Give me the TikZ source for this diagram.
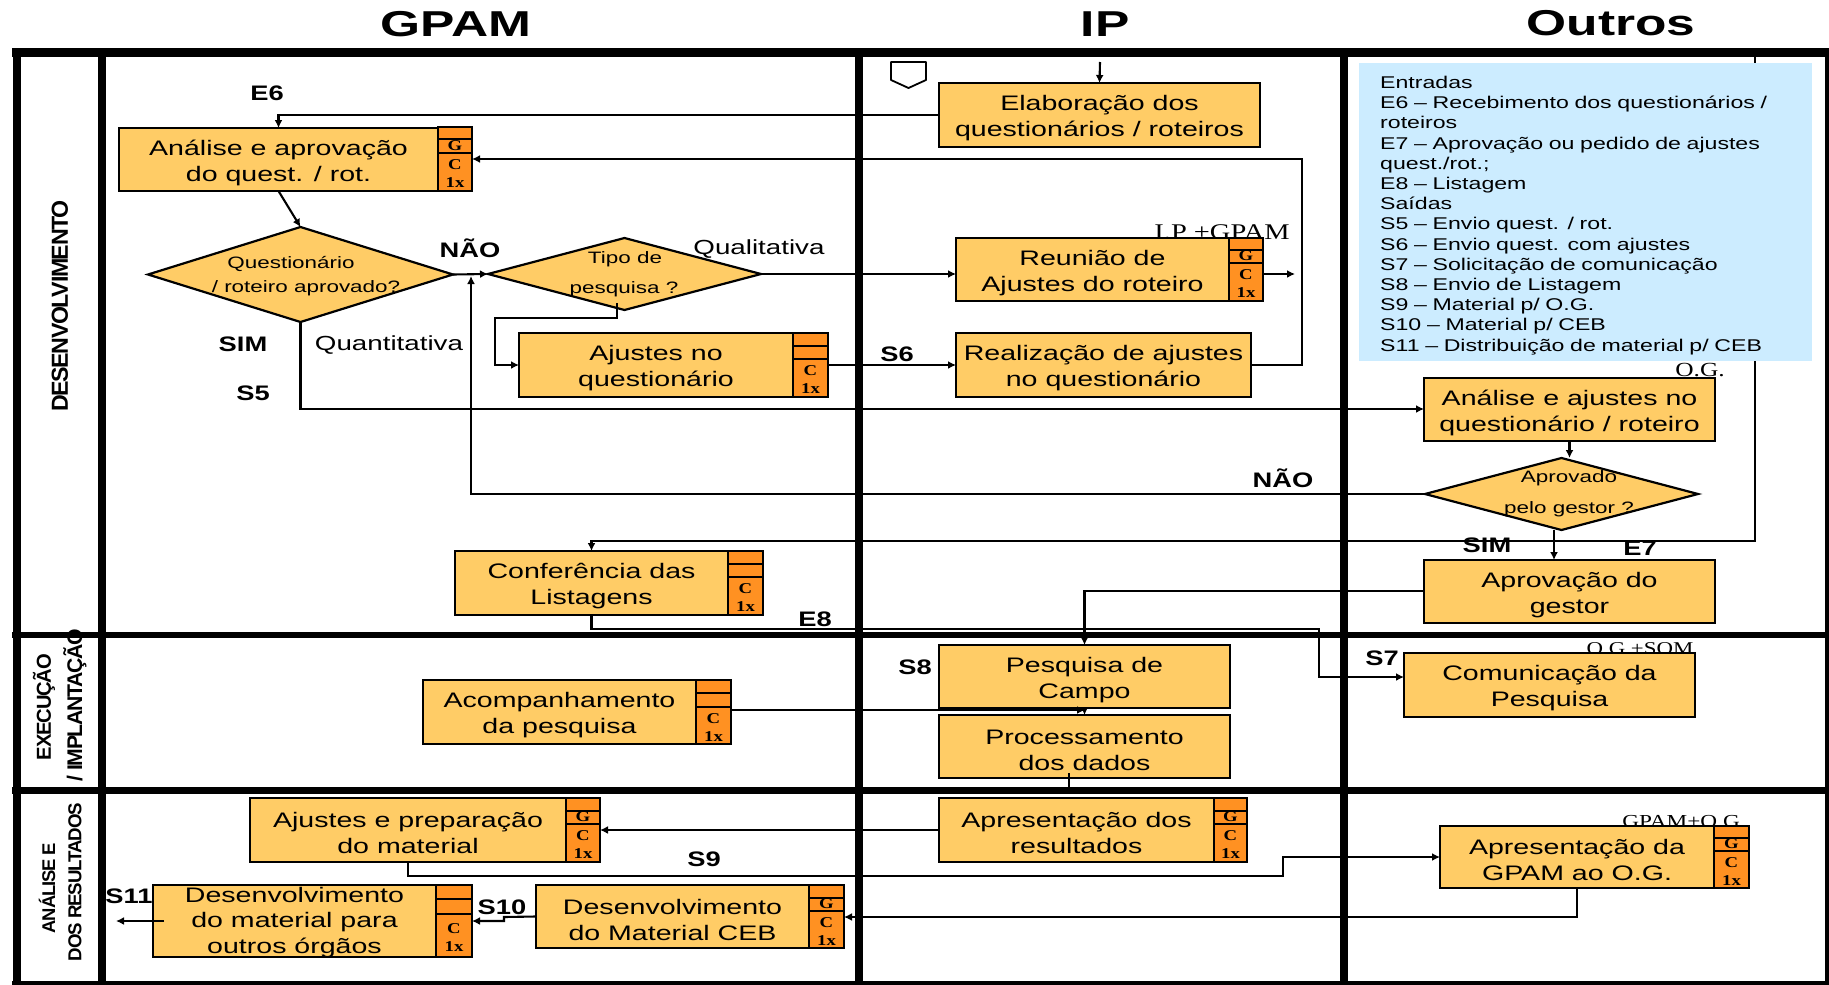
\documentclass[tikz,border=0pt]{standalone}
\usepackage{fontspec}
\usetikzlibrary{arrows.meta,shapes.geometric}
\setmainfont[FakeStretch=1.36]{Liberation Sans}
\newfontfamily\plainfont[LetterSpace=-6]{Liberation Sans}
\newfontfamily\lblfont[FakeStretch=1.3]{Liberation Sans}
\newfontfamily\ttlfont[FakeStretch=1.43]{Liberation Sans}
\newfontfamily\serfont[FakeStretch=1.27]{Liberation Serif}
\newfontfamily\sidefont[FakeStretch=1.25]{Liberation Serif}
\definecolor{boxfill}{HTML}{FFCC66}
\definecolor{sidefill}{HTML}{FF9122}
\definecolor{bluefill}{HTML}{CCECFF}
\tikzset{
  frame/.style={line width=#1,line cap=butt},
  procstyle/.style={draw=black,line width=2.4pt,fill=boxfill,inner sep=0pt,outer sep=0pt,align=center,
    font=\fontsize{21}{26}\selectfont},
  sidestyle/.style={draw=black,line width=2.6pt,fill=sidefill,inner sep=0pt,outer sep=0pt,align=center,
    font=\sidefont\bfseries\fontsize{15}{18}\selectfont},
  dec/.style={draw=black,line width=2.2pt,fill=boxfill,diamond,aspect=3,inner sep=0pt,outer sep=0pt},
  dectext/.style={font=\fontsize{16.5}{20}\selectfont,inner sep=0pt},
  conn/.style={draw=black,line width=2.1pt},
  arr/.style={conn,-{Latex[length=8pt,width=8pt]}},
  lbl/.style={font=\lblfont\bfseries\fontsize{21}{25}\selectfont,inner sep=0pt},
  free/.style={font=\fontsize{20.4}{24}\selectfont,inner sep=0pt},
  ttl/.style={font=\ttlfont\bfseries\fontsize{36}{40}\selectfont,inner sep=0pt},
  owner/.style={font=\serfont\fontsize{#1}{#1}\selectfont,inner sep=0pt},
  lane/.style={font=\plainfont\bfseries\fontsize{#1}{#1}\selectfont,rotate=90,inner sep=0pt},
}
\newcommand{\procbox}[6]{%
  \pgfmathsetmacro{\mycx}{(#2+#4)/2}\pgfmathsetmacro{\mycy}{(#3+#5)/2}%
  \pgfmathsetmacro{\myw}{#4-#2}\pgfmathsetmacro{\myh}{#5-#3}%
  \node[procstyle,minimum width=\myw pt,minimum height=\myh pt] (#1) at (\mycx,\mycy) {\rule{0pt}{22pt}#6};}
\newcommand{\sidepart}[6]{%
  \pgfmathsetmacro{\mycx}{(#2+#4)/2}\pgfmathsetmacro{\mycy}{(#3+#5)/2}%
  \pgfmathsetmacro{\myw}{#4-#2}\pgfmathsetmacro{\myh}{#5-#3}%
  \node[sidestyle,minimum width=\myw pt,minimum height=\myh pt] (#1) at (\mycx,\mycy) {#6};}
% name x0 y0 x1 y1 d1 d2 midletter
\newcommand{\sidebox}[8]{%
  \sidepart{#1-a}{#2}{#3}{#4}{#6}{}%
  \sidepart{#1-b}{#2}{#6}{#4}{#7}{\raisebox{-4pt}[0pt][0pt]{#8}}%
  \sidepart{#1-c}{#2}{#7}{#4}{#5}{\rule{0pt}{13.5pt}C\\1x}}
\begin{document}
\begin{tikzpicture}[x=1pt,y=-1pt]
\useasboundingbox (0,0) rectangle (1829,985);
\fill[white] (0,0) rectangle (1829,985);
% titles
\node[ttl] (tgpam) at (456,24) {GPAM};
\node[ttl] (tip) at (1105,24) {IP};
\node[ttl] (toutros) at (1611,23) {Outros};
% frame
\draw[frame=9pt] (12,52.5) -- (1829,52.5);
\draw[frame=6pt] (12,635) -- (1829,635);
\draw[frame=7pt] (12,790) -- (1829,790);
\draw[frame=4pt] (12,983) -- (1829,983);
\draw[frame=8pt] (16.5,48) -- (16.5,985);
\draw[frame=8pt] (102,48) -- (102,985);
\draw[frame=8pt] (859,48) -- (859,985);
\draw[frame=8pt] (1344,48) -- (1344,985);
\draw[frame=4pt] (1827,48) -- (1827,985);
% lane names
\node[lane=23.2] (l1) at (60,306) {DESENVOLVIMENTO};
\node[lane=20.2] (l2a) at (44,707) {EXECUÇÃO};
\node[lane=21.2] (l2b) at (75,705) {/ IMPLANTAÇÃO};
\node[lane=18.4] (l3a) at (47,888) {ANÁLISE E};
\node[lane=18.7] (l3b) at (75,882) {DOS RESULTADOS};
% owner labels, behind the boxes
\node[owner=22.4] (o1) at (1222,232) {I.P +GPAM};
\node[owner=20] (o2) at (1700,370) {O.G.};
\node[owner=18] (o3) at (1640,649) {O.G +SOM};
\node[owner=18.3] (o4) at (1684,822) {GPAM+O.G.};
% off-page marker
\draw[line width=1.8pt,line join=round] (891,62) -- (926,62) -- (926,80) -- (908.5,88) -- (891,80) -- cycle;
% boxes
\procbox{anal}{119}{128}{438}{191}{Análise e aprovação\\do quest. / rot.}
\sidebox{sanal}{438}{127}{472}{191}{139}{153}{G}
\procbox{elab}{939}{83}{1260}{147}{Elaboração dos\\questionários / roteiros}
\procbox{reun}{956}{238}{1229}{301}{Reunião de\\Ajustes do roteiro}
\sidebox{sreun}{1229}{238}{1263}{301}{250}{263}{G}
\procbox{ajn}{519}{333}{793}{397}{Ajustes no\\questionário}
\sidebox{sajn}{793}{333}{828}{397}{346}{359}{}
\procbox{real}{956}{333}{1251}{397}{Realização de ajustes\\no questionário}
\procbox{anaj}{1424}{378}{1715}{441}{Análise e ajustes no\\questionário / roteiro}
\procbox{aprov}{1424}{560}{1715}{623}{Aprovação do\\gestor}
\procbox{conf}{455}{551}{728}{615}{Conferência das\\Listagens}
\sidebox{sconf}{728}{551}{763}{615}{564}{577}{}
\procbox{pesq}{939}{645}{1230}{708}{Pesquisa de\\Campo}
\procbox{proc}{939}{715}{1230}{778}{Processamento\\dos dados}
\procbox{com}{1404}{653}{1695}{717}{Comunicação da\\Pesquisa}
\procbox{acomp}{423}{680}{696}{744}{Acompanhamento\\da pesquisa}
\sidebox{sacomp}{696}{680}{731}{744}{693}{707}{}
\procbox{apres}{939}{798}{1214}{862}{Apresentação dos\\resultados}
\sidebox{sapres}{1214}{798}{1247}{862}{811}{824}{G}
\procbox{ajp}{250}{798}{566}{862}{Ajustes e preparação\\do material}
\sidebox{sajp}{566}{798}{600}{862}{811}{824}{G}
\procbox{apg}{1440}{826}{1714}{888}{Apresentação da\\GPAM ao O.G.}
\sidebox{sapg}{1714}{826}{1749}{888}{838}{851}{G}
\procbox{ceb}{536}{885}{809}{948}{Desenvolvimento\\do Material CEB}
\sidebox{sceb}{809}{885}{844}{948}{898}{911}{G}
\node[procstyle,minimum width=283pt,minimum height=72pt] (outr) at (294.5,921) {};
\node[font=\fontsize{21}{25.3}\selectfont,align=center,inner sep=0pt] (outrt) at (294.5,922.5) {Desenvolvimento\\do material para\\outros órgãos};
\sidebox{soutr}{436}{885}{472}{957}{899}{914}{}
% decisions
\node[dec,minimum width=305pt,minimum height=95pt] (d1) at (300.5,274.5) {};
\node[dec,minimum width=273pt,minimum height=72pt] (d2) at (624.5,274) {};
\node[dec,minimum width=273pt,minimum height=72pt] (d3) at (1561.5,494) {};
\node[dectext] (d1a) at (291,263.5) {Questionário};
\node[dectext] (d1b) at (306,288.5) {/ roteiro aprovado?};
\node[dectext] (d2a) at (625,259) {Tipo de};
\node[dectext] (d2b) at (624,289.5) {pesquisa ?};
\node[dectext] (d3a) at (1569,478) {Aprovado};
\node[dectext] (d3b) at (1569,509.5) {pelo gestor ?};
% free ends
\coordinate (elabin) at (1100,62);
\coordinate (reunout) at (1295,274);
\coordinate (d2out) at (617,303);
\coordinate (nao) at (471,276);
\coordinate (d3out) at (1554,530);
\coordinate (fbtop) at (1755,57);
\coordinate (acin) at (1085,710);
\coordinate (procout) at (1069,773);
\coordinate (apresin) at (1069,793);
\coordinate (s11a) at (164,921);
\coordinate (s11b) at (116,921);
% connectors
\draw[arr] (elabin) -- (elab.north);
\draw[arr] (elab.west) -| (anal.north);
\draw[arr] (anal.south) -- (d1.north);
\draw[arr] (d1.east) -- (d2.west);
\draw[arr] (d2.east) -- (d2.east -| reun.west);
\draw[arr] (d1.south) |- (anaj.west |- 0,409);
\draw[arr] (d2out) -- (617,318) -- (495,318) -- (495,365) -- (ajn.west);
\draw[arr] (sajn-c.east |- real.west) -- (real.west);
\draw[arr] (real.east) -- (1302,365) -- (1302,159) -- (sanal-c.east |- 0,159);
\draw[arr] (sreun-c.east |- reunout) -- (reunout);
\draw[arr] (anaj.south) -- (anaj.south |- d3.north);
\draw[arr] (d3.west) -| (nao);
\draw[arr] (d3out) -- (d3out |- aprov.north);
\draw[arr] (aprov.west |- 0,591) -| (pesq.north);
\draw[arr] (fbtop) -- (1755,541) -| (conf.north);
\draw[arr] (conf.south) -- (591.5,629) -- (1319,629) -- (1319,677) -- (com.west |- 0,677);
\draw[arr] (sacomp-c.east |- acin) -- (acin);
\draw[arr] (pesq.south) -- (proc.north);
\draw[conn,line width=1.4pt] (procout) -- (apresin);
\draw[arr] (apres.west) -- (apres.west -| sajp-c.east);
\draw[arr] (ajp.south) |- (1283,876) |- (apg.west);
\draw[arr] (apg.south) |- (sceb-c.east |- 0,917);
\draw[arr] (ceb.west) -- (504,917) -- (504,921) -- (soutr-c.east |- 0,921);
\draw[arr] (s11a) -- (s11b);
% legend
\node[draw=none,fill=bluefill,anchor=north west,inner xsep=21pt,inner ysep=0pt,text width=411pt,minimum height=298pt,
  align=left,font=\fontsize{17}{20.2}\selectfont] (legend) at (1359,63)
  {\rule{0pt}{19pt}Entradas\\E6 – Recebimento dos questionários /\\roteiros\\E7 – Aprovação ou pedido de ajustes\\quest./rot.;\\E8 – Listagem\\Saídas\\S5 – Envio quest. / rot.\\S6 – Envio quest. com ajustes\\S7 – Solicitação de comunicação\\S8 – Envio de Listagem\\S9 – Material p/ O.G.\\S10 – Material p/ CEB\\S11 – Distribuição de material p/ CEB};
% labels
\node[lbl] (e6) at (267,93) {E6};
\node[lbl] (nao1) at (470,248) {NÃO};
\node[free] (qual) at (759,249) {Qualitativa};
\node[lbl] (sim1) at (243,344) {SIM};
\node[free] (quant) at (389,345) {Quantitativa};
\node[lbl] (s5) at (253,393) {S5};
\node[lbl] (s6) at (897,354) {S6};
\node[lbl] (nao2) at (1283,478) {NÃO};
\node[lbl] (sim2) at (1487,545) {SIM};
\node[lbl] (e7) at (1640,548) {E7};
\node[lbl] (e8) at (815,619) {E8};
\node[lbl] (s7) at (1382,658) {S7};
\node[lbl] (s8) at (915,667) {S8};
\node[lbl] (s9) at (704,859) {S9};
\node[lbl] (s10) at (502,907) {S10};
\node[lbl] (s11) at (129,896) {S11};
\end{tikzpicture}
\end{document}
